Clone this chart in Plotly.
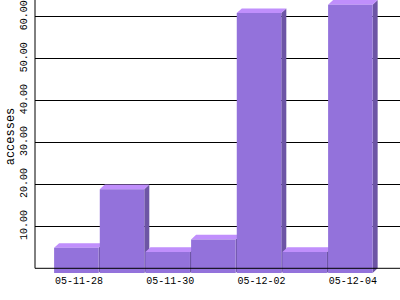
import plotly.graph_objects as go

# ---- data ----
dates = ["05-11-28", "05-11-29", "05-11-30", "05-12-01", "05-12-02", "05-12-03", "05-12-04"]
accesses = [6, 20, 5, 8, 62, 5, 64]
y_ticks = [10, 20, 30, 40, 50, 60]
y_tick_labels = ["10.00", "20.00", "30.00", "40.00", "50.00", "60.00"]
x_tick_idx = [0, 2, 4, 6]
y_title = "accesses"

# ---- style / geometry (3D effect) ----
W = 0.975      # bar width in category units
DX = 0.11      # depth offset, category units
DY = 1.12      # depth offset, value units
C_FRONT = "#9372DB"
C_TOP = "#C08FFC"
C_SIDE = "#6D55A5"
FONT = "Liberation Mono"

ymax = max(accesses)

sx, sy, tx, ty, fx, fy = [], [], [], [], [], []
for i, v in enumerate(accesses):
    l, r = i - W / 2, i + W / 2
    # front face
    fx += [l - DX, r - DX, r - DX, l - DX, l - DX, None]
    fy += [-DY, -DY, v - DY, v - DY, -DY, None]
    # top face
    tx += [l - DX, r - DX, r, l, l - DX, None]
    ty += [v - DY, v - DY, v, v, v - DY, None]
    # side face
    sx += [r - DX, r, r, r - DX, r - DX, None]
    sy += [v - DY, v, 0, -DY, v - DY, None]

fig = go.Figure()
for xs, ys, col in [(sx, sy, C_SIDE), (tx, ty, C_TOP), (fx, fy, C_FRONT)]:
    fig.add_trace(go.Scatter(x=xs, y=ys, mode="lines", fill="toself",
                             fillcolor=col, line=dict(width=0, color=col),
                             hoverinfo="skip", showlegend=False))

fig.update_layout(
    width=400, height=300,
    margin=dict(l=35, r=0, t=0, b=27),
    paper_bgcolor="white", plot_bgcolor="white",
    font=dict(family=FONT, size=10, color="black"),
    showlegend=False,
)
fig.update_xaxes(
    range=[-1.016, len(dates) - 1 + 0.977],
    tickmode="array",
    tickvals=[i - DX / 2 for i in x_tick_idx],
    ticktext=[dates[i] for i in x_tick_idx],
    showgrid=False, zeroline=False, showline=False,
    ticks="", tickfont=dict(family=FONT, size=10, color="black"),
)
fig.update_yaxes(
    range=[-DY, ymax],
    tickmode="array",
    tickvals=y_ticks, ticktext=y_tick_labels,
    tickangle=-90,
    ticklabelstandoff=5,
    showgrid=True, gridcolor="black", gridwidth=1,
    zeroline=False, showline=False, ticks="",
    tickfont=dict(family=FONT, size=10, color="black"),
    title=dict(text=y_title, font=dict(family=FONT, size=12, color="black"), standoff=1),
)
# axis lines (drawn above bars)
fig.add_shape(type="line", xref="paper", yref="y", x0=0, x1=1, y0=0, y1=0,
              line=dict(color="black", width=1), layer="above")
fig.add_shape(type="line", xref="paper", yref="y", x0=0, x1=0, y0=0, y1=ymax,
              line=dict(color="black", width=1), layer="above")

fig.write_html("out.html")
